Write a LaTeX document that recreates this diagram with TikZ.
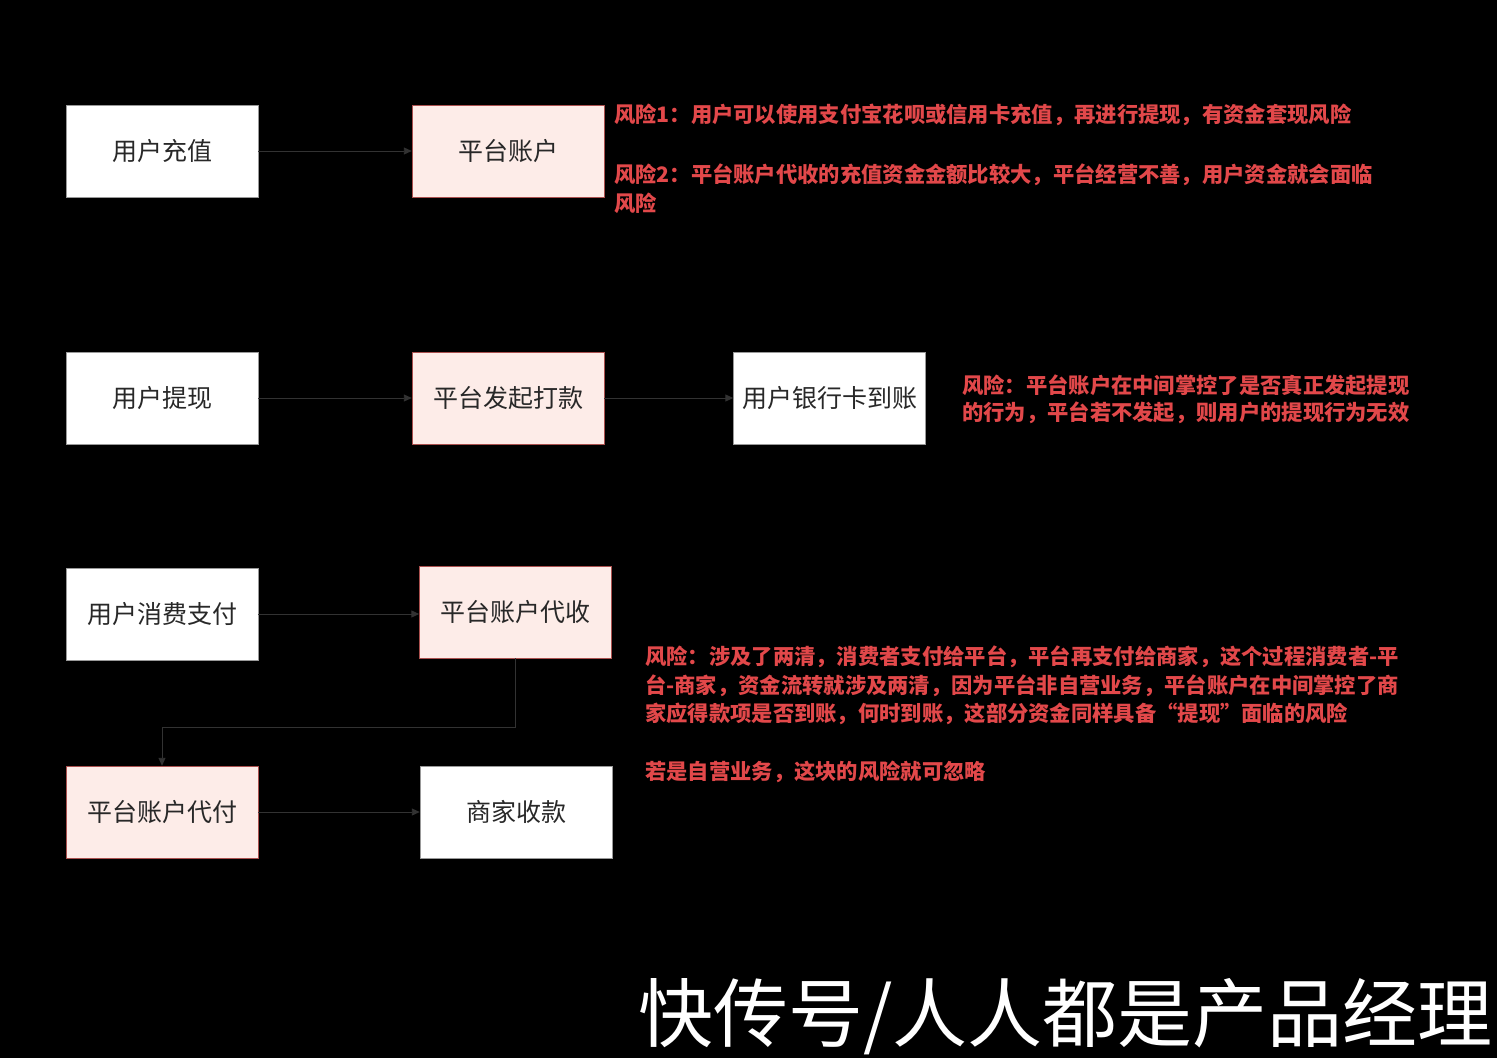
\documentclass[tikz,border=0pt]{standalone}
\usepackage{fontspec}
\setmainfont{Noto Sans CJK SC}
\usetikzlibrary{arrows.meta}
\definecolor{boxtext}{RGB}{40,40,40}
\definecolor{pinkfill}{RGB}{253,236,232}
\definecolor{pinkdraw}{RGB}{170,80,78}
\definecolor{risk}{RGB}{226,72,74}
\definecolor{conn}{RGB}{50,50,50}
\tikzset{
  whitebox/.style={draw=black!40, fill=white, minimum width=192pt, minimum height=92pt, inner sep=0pt, text=boxtext, font=\fontsize{25}{30}\selectfont},
  pinkbox/.style={whitebox, draw=pinkdraw, fill=pinkfill},
  flow/.style={draw=conn, line width=0.9pt, -{Triangle[length=8pt,width=7pt]}},
  risktext/.style={anchor=west, inner sep=0pt, text=risk, font=\fontsize{21.3}{28}\selectfont\bfseries},
  watermark/.style={anchor=west, inner sep=0pt, text=white, font=\fontsize{75}{80}\selectfont}
}
\begin{document}
\begin{tikzpicture}[x=1pt,y=-1pt]
\fill[black] (0,0) rectangle (1497,1058);
\useasboundingbox (0,0) rectangle (1497,1058);

% row 1
\node[whitebox] (cz) at (162,151) {用户充值};
\node[pinkbox] (zh) at (508,151) {平台账户};
\draw[flow] (cz) -- (zh);
\node[risktext] (r1) at (614,115) {风险1：用户可以使用支付宝花呗或信用卡充值，再进行提现，有资金套现风险};
\node[risktext] (r2a) at (614,175) {风险2：平台账户代收的充值资金金额比较大，平台经营不善，用户资金就会面临};
\node[risktext] (r2b) at (614,203) {风险};

% row 2
\node[whitebox] (tx) at (162,398) {用户提现};
\node[pinkbox] (dk) at (508,398) {平台发起打款};
\node[whitebox] (dz) at (829.5,398) {用户银行卡到账};
\draw[flow] (tx) -- (dk);
\draw[flow] (dk) -- (dz);
\node[risktext] (r3a) at (962,385) {风险：平台账户在中间掌控了是否真正发起提现};
\node[risktext] (r3b) at (962,413) {的行为，平台若不发起，则用户的提现行为无效};

% row 3
\node[whitebox] (xf) at (162,614) {用户消费支付};
\node[pinkbox] (ds) at (515.5,612) {平台账户代收};
\node[pinkbox] (df) at (162,812) {平台账户代付};
\node[whitebox] (sk) at (516,812) {商家收款};
\draw[flow] (xf.east) -- (ds.west |- xf.east);
\coordinate (bend1) at (ds.south |- 0,727);
\coordinate (bend2) at (df.north |- 0,727);
\draw[flow] (ds.south) -- (bend1) -- (bend2) -- (df.north);
\draw[flow] (df) -- (sk);

\node[risktext] (r4a) at (645,657) {风险：涉及了两清，消费者支付给平台，平台再支付给商家，这个过程消费者-平};
\node[risktext] (r4b) at (645,686) {台-商家，资金流转就涉及两清，因为平台非自营业务，平台账户在中间掌控了商};
\node[risktext] (r4c) at (645,714) {家应得款项是否到账，何时到账，这部分资金同样具备“提现”面临的风险};
\node[risktext] (r5) at (645,772) {若是自营业务，这块的风险就可忽略};

% watermark
\node[watermark] (wm) at (638,1017) {快传号/人人都是产品经理};
\end{tikzpicture}
\end{document}
